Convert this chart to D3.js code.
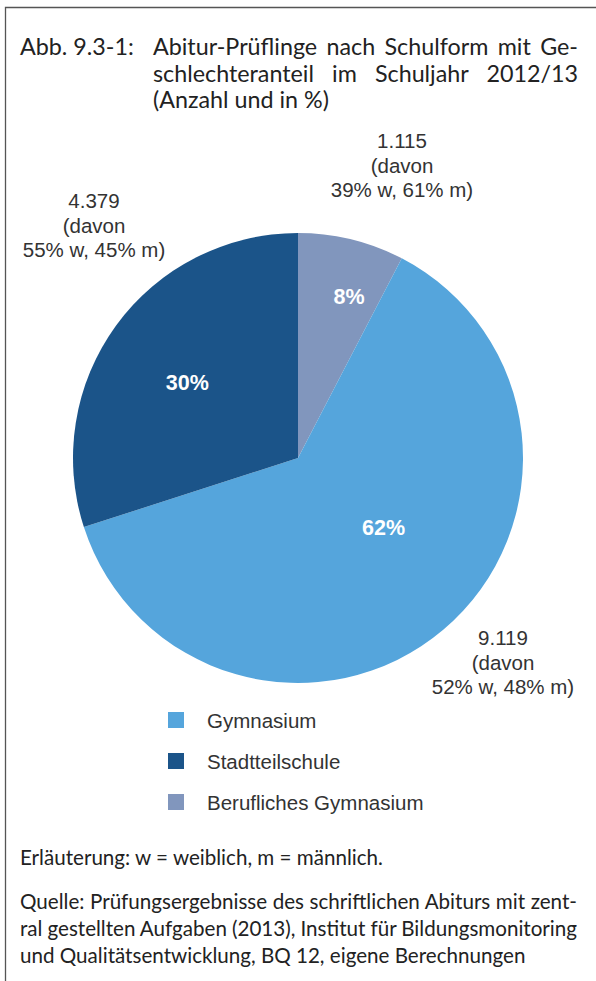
<!DOCTYPE html>
<html><head><meta charset="utf-8">
<script src="https://cdn.jsdelivr.net/npm/d3@7"></script>
<style>html,body{margin:0;padding:0;background:#fff;}svg{display:block;}</style>
</head><body>
<script>
const categories = ["Berufliches Gymnasium", "Gymnasium", "Stadtteilschule"];
const counts = [1115, 9119, 4379];
const countLabels = ["1.115", "9.119", "4.379"];
const shareLabels = ["39% w, 61% m)", "52% w, 48% m)", "55% w, 45% m)"];
const percentLabels = ["8%", "62%", "30%"];
const colors = ["#8196BD", "#55A5DC", "#1B5489"];
const legendOrder = ["Gymnasium", "Stadtteilschule", "Berufliches Gymnasium"];

const W = 596, H = 981;
const svg = d3.select("body").append("svg").attr("width", W).attr("height", H);
const myriad = "Lato, 'Open Sans', sans-serif";
const arial = "'Liberation Sans', Arial, sans-serif";

function justify(sel, target) {
  const words = sel.text().split(" ").length - 1;
  const nat = sel.node().getComputedTextLength();
  if (words > 0) sel.attr("word-spacing", (target - nat) / words);
}

// frame
svg.append("path").attr("d", `M5.5,${H} L5.5,7.5 L${W},7.5`).attr("fill", "none").attr("stroke", "#555").attr("stroke-width", 1.3);

// title
const tg = svg.append("g").attr("font-family", myriad).attr("font-size", 23.3).attr("fill", "#222");
tg.append("text").attr("x", 20).attr("y", 55).text("Abb. 9.3-1:");
justify(tg.append("text").attr("x", 153).attr("y", 55).text("Abitur-Prüflinge nach Schulform mit Ge-"), 425);
justify(tg.append("text").attr("x", 153).attr("y", 82).text("schlechteranteil im Schuljahr 2012/13"), 425);
tg.append("text").attr("x", 153).attr("y", 108).text("(Anzahl und in %)");

// pie
const cx = 298, cy = 458, R = 225;
const pie = d3.pie().sort(null).value(d => d)(counts);
const arc = d3.arc().innerRadius(0).outerRadius(R);
const g = svg.append("g").attr("transform", `translate(${cx},${cy})`);
g.selectAll("path").data(pie).join("path").attr("d", arc).attr("fill", (d, i) => colors[i]);

// percent labels inside
const inR = [170, 110, 134];
const inShift = [0.065, -0.19, -0.03];
g.selectAll("text.pct").data(pie).join("text").attr("class", "pct")
  .attr("x", (d, i) => Math.sin((d.startAngle + d.endAngle) / 2 + inShift[i]) * inR[i])
  .attr("y", (d, i) => -Math.cos((d.startAngle + d.endAngle) / 2 + inShift[i]) * inR[i])
  .attr("dy", "0.36em").attr("text-anchor", "middle")
  .attr("font-family", arial).attr("font-weight", "bold").attr("font-size", 21.5).attr("fill", "#fff")
  .text((d, i) => percentLabels[i]);

// outside labels
const outPos = [[104, -293], [205, 204], [-204, -233]];
pie.forEach((d, i) => {
  const t = g.append("text").attr("text-anchor", "middle").attr("font-family", arial).attr("font-size", 20.5).attr("fill", "#333");
  const [x, y] = outPos[i];
  [countLabels[i], "(davon", shareLabels[i]].forEach((s, k) => {
    t.append("tspan").attr("x", x).attr("y", y + (k - 1) * 24.5 + 7.5).text(s);
  });
});

// legend
const lg = svg.append("g");
legendOrder.forEach((name, i) => {
  const idx = categories.indexOf(name);
  const y = 720 + i * 41;
  lg.append("rect").attr("x", 168).attr("y", y - 8).attr("width", 16).attr("height", 16).attr("fill", colors[idx]);
  lg.append("text").attr("x", 207).attr("y", y + 7.5).attr("font-family", arial).attr("font-size", 20.5).attr("fill", "#333").text(name);
});

// footer
const fg = svg.append("g").attr("font-family", myriad).attr("font-size", 20.6).attr("fill", "#222");
fg.append("text").attr("x", 20).attr("y", 865).text("Erläuterung: w = weiblich, m = männlich.");
justify(fg.append("text").attr("x", 20).attr("y", 909).text("Quelle: Prüfungsergebnisse des schriftlichen Abiturs mit zent-"), 557);
justify(fg.append("text").attr("x", 20).attr("y", 936).text("ral gestellten Aufgaben (2013), Institut für Bildungsmonitoring"), 557);
fg.append("text").attr("x", 20).attr("y", 963).text("und Qualitätsentwicklung, BQ 12, eigene Berechnungen");
</script>
</body></html>
